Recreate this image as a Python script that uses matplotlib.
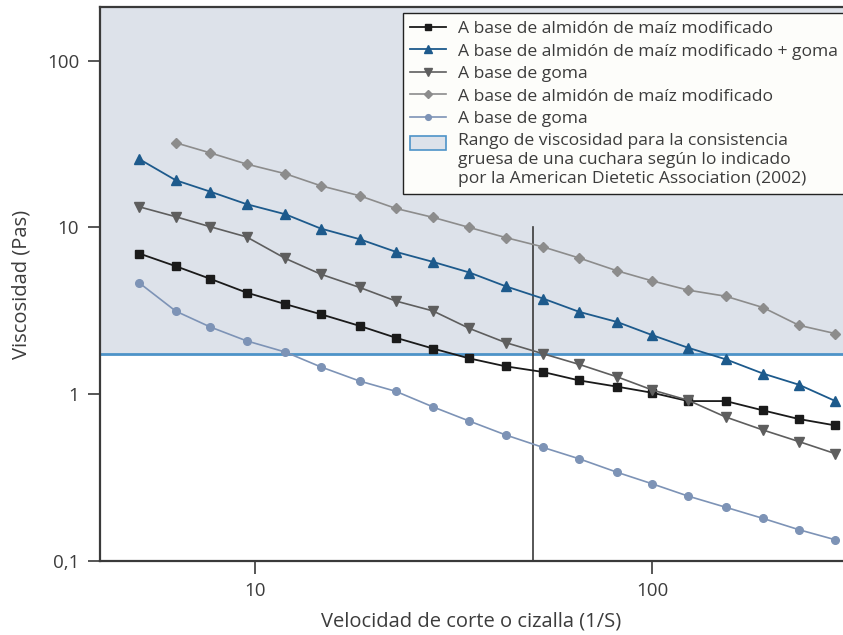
import numpy as np
import matplotlib.pyplot as plt
from matplotlib.patches import Patch, Rectangle
from matplotlib.legend_handler import HandlerPatch
from matplotlib.ticker import FixedLocator, NullLocator

plt.rcParams['font.family'] = ['Open Sans', 'DejaVu Sans']

# shear rate (1/s), same grid for every sample
shear_rate = [5.1, 6.3, 7.7, 9.5, 11.9, 14.6, 18.3, 22.6, 28.0, 34.6,
              42.7, 53.0, 65.4, 81.6, 100, 123, 153, 190, 234, 289]

# viscosity (Pa s)
almidon_1 = [6.98, 5.86, 4.92, 4.07, 3.47, 3.02, 2.57, 2.18, 1.88, 1.64,
             1.47, 1.36, 1.21, 1.11, 1.02, 0.91, 0.91, 0.80, 0.71, 0.65]
almidon_goma = [25.7, 19.2, 16.4, 13.8, 12.0, 9.86, 8.51, 7.14, 6.22, 5.37,
                4.44, 3.75, 3.12, 2.71, 2.26, 1.90, 1.62, 1.33, 1.14, 0.91]
goma_1 = [13.3, 11.6, 10.1, 8.78, 6.52, 5.25, 4.37, 3.62, 3.16, 2.48,
          2.04, 1.75, 1.51, 1.27, 1.06, 0.92, 0.73, 0.61, 0.52, 0.44]
almidon_2 = [32.2, 28.0, 24.0, 21.0, 17.8, 15.5, 13.0, 11.5, 10.0,
             8.7, 7.65, 6.56, 5.49, 4.78, 4.21, 3.87, 3.31, 2.59, 2.31]
goma_2 = [4.65, 3.15, 2.53, 2.09, 1.79, 1.46, 1.20, 1.04, 0.84, 0.69,
          0.57, 0.48, 0.41, 0.34, 0.29, 0.245, 0.21, 0.18, 0.154, 0.134]

labels = [
    "A base de almidón de maíz modificado",
    "A base de almidón de maíz modificado + goma",
    "A base de goma",
    "A base de almidón de maíz modificado",
    "A base de goma",
]
range_label = ("Rango de viscosidad para la consistencia\n"
               "gruesa de una cuchara según lo indicado\n"
               "por la American Dietetic Association (2002)")

# spoon-thick consistency threshold and reference shear rate
range_min = 1.75
ref_rate = 50

xlim = (4.06, 302)
ylim = (0.1, 210)

band_color = '#dde2ea'
band_edge = '#4d93c8'
axis_color = '#3a3a3a'
text_color = '#3c3c3c'


def top_aligned_box(legend, orig_handle, xdescent, ydescent, width, height, fontsize):
    # put the swatch next to the first line of a multi-line label
    return Rectangle((-xdescent, -ydescent + 0.95 * fontsize), width, height)


fig = plt.figure(figsize=(8.43, 6.35), dpi=100)
ax = fig.add_axes([100 / 843, 74 / 635, 743 / 843, 554 / 635])
ax.set_xscale('log')
ax.set_yscale('log')
ax.set_xlim(*xlim)
ax.set_ylim(*ylim)

ax.axhspan(range_min, ylim[1], color=band_color, zorder=0, lw=0)
ax.axhline(range_min, color=band_edge, lw=2, zorder=1)
ax.plot([ref_rate, ref_rate], [ylim[0], 10], color=axis_color, lw=1.2, zorder=1)

ax.plot(shear_rate, almidon_1, color='#1a1a1a', marker='s', ms=6, lw=1.3, label=labels[0], zorder=3)
ax.plot(shear_rate, almidon_goma, color='#1d5a8c', marker='^', ms=7, lw=1.3, label=labels[1], zorder=3)
ax.plot(shear_rate, goma_1, color='#5e5e5e', marker='v', ms=7, lw=1.2, label=labels[2], zorder=3)
ax.plot(shear_rate[1:], almidon_2, color='#8c8c8c', marker='D', ms=5.5, lw=1.2, label=labels[3], zorder=3)
ax.plot(shear_rate, goma_2, color='#7d93b6', marker='o', ms=5.5, lw=1.2, label=labels[4], zorder=3)

ax.xaxis.set_major_locator(FixedLocator([10, 100]))
ax.xaxis.set_minor_locator(NullLocator())
ax.yaxis.set_major_locator(FixedLocator([0.1, 1, 10, 100]))
ax.yaxis.set_minor_locator(NullLocator())
ax.set_xticklabels(['10', '100'])
ax.set_yticklabels(['0,1', '1', '10', '100'])
ax.tick_params(axis='both', colors=axis_color, labelcolor=text_color,
               labelsize=13.5, length=9, width=1.2, pad=6)

for side in ['left', 'bottom', 'top']:
    ax.spines[side].set_color(axis_color)
    ax.spines[side].set_linewidth(1.6)
ax.spines['right'].set_visible(False)

ax.set_xlabel("Velocidad de corte o cizalla (1/S)", fontsize=14.5, color=text_color, va='center')
ax.xaxis.set_label_coords(0.5, -(621 - 561) / 554)
ax.set_ylabel("Viscosidad (Pas)", fontsize=14.5, color=text_color, va='center')
ax.yaxis.set_label_coords(-(100 - 22) / 743, 0.5)

handles, _ = ax.get_legend_handles_labels()
band_patch = Patch(facecolor=band_color, edgecolor=band_edge, lw=1.2)
handles.append(band_patch)
leg = ax.legend(handles, labels + [range_label], loc='upper right',
                bbox_to_anchor=(1.003, 1 - 6 / 554), borderaxespad=0,
                fontsize=12.6, frameon=True, fancybox=False,
                handlelength=2.05, handleheight=0.9, handletextpad=0.7,
                labelspacing=0.3, borderpad=0.4, labelcolor=text_color,
                markerscale=0.75,
                handler_map={band_patch: HandlerPatch(patch_func=top_aligned_box)})
for t in leg.get_texts():
    t.set_linespacing(1.25)
leg.get_frame().set_edgecolor('#222222')
leg.get_frame().set_linewidth(1.0)
leg.get_frame().set_facecolor('#fdfdfa')
leg.get_frame().set_alpha(1)

fig.savefig('out.png', dpi=100)
